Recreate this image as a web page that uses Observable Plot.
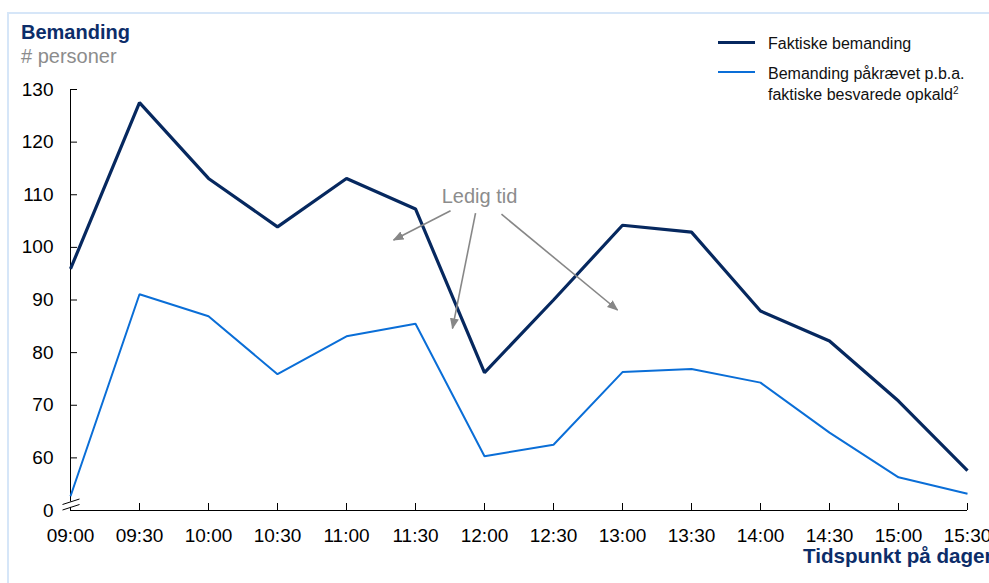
<!DOCTYPE html>
<html><head><meta charset="utf-8">
<script src="https://cdn.jsdelivr.net/npm/d3@7"></script>
<script src="https://cdn.jsdelivr.net/npm/@observablehq/plot@0.6"></script>
<style>
html,body{margin:0;padding:0;background:#fff;overflow:hidden;}
#wrap{position:relative;width:989px;height:583px;overflow:hidden;font-family:"Liberation Sans",Arial,sans-serif;}
#chart{position:absolute;left:0;top:0;}
.ov{position:absolute;white-space:nowrap;line-height:1;}
.frame-top{position:absolute;left:7px;top:12px;width:982px;height:2px;background:#d6e6f8;}
.frame-left{position:absolute;left:7px;top:12px;width:2px;height:571px;background:#d6e6f8;}
#title{left:21px;top:22px;font-size:20px;font-weight:bold;color:#0c2d69;}
#subtitle{left:21px;top:45.5px;font-size:20px;color:#8c8c8c;}
#xlabel{left:803px;top:546px;font-size:20.6px;font-weight:bold;color:#0c2d69;}
.lg-line{position:absolute;left:718px;width:37px;}
.lg-text{position:absolute;left:768px;font-size:16px;line-height:21px;color:#111;white-space:nowrap;}
sup{font-size:10px;line-height:0;vertical-align:6px;}
</style>
</head>
<body>
<div id="wrap">
  <div class="frame-top"></div>
  <div class="frame-left"></div>
  <div id="chart"></div>
  <div class="ov" id="title">Bemanding</div>
  <div class="ov" id="subtitle"># personer</div>
  <div class="lg-line" style="top:41.2px;height:3px;background:#06285f;"></div>
  <div class="lg-text" style="top:32.5px;">Faktiske bemanding</div>
  <div class="lg-line" style="top:70.7px;height:2px;background:#0a6ed7;"></div>
  <div class="lg-text" style="top:63px;">Bemanding påkrævet p.b.a.<br>faktiske besvarede opkald<sup>2</sup></div>
  <div class="ov" id="xlabel">Tidspunkt på dagen</div>
</div>
<script>
const times = ["09:00","09:30","10:00","10:30","11:00","11:30","12:00","12:30","13:00","13:30","14:00","14:30","15:00","15:30"];
const faktiske = [95.9,127.5,113.1,103.9,113.1,107.3,76.2,90.0,104.2,102.9,87.9,82.2,70.8,57.6];
const paakraevet = [52.7,91.1,86.9,75.9,83.1,85.5,60.3,62.5,76.3,76.9,74.3,64.8,56.3,53.2];
const yTicks = [50,60,70,80,90,100,110,120,130];
const yTickLabels = ["0","60","70","80","90","100","110","120","130"];
const seriesNames = ["Faktiske bemanding","Bemanding påkrævet p.b.a. faktiske besvarede opkald"];
const annotationLabel = "Ledig tid";
const annotationPos = [11.964, 109.7];
const arrowsData = [
  {x1:11.754,y1:106.96,x2:11.341,y2:101.4},
  {x1:11.935,y1:106.5,x2:11.768,y2:84.6},
  {x1:12.123,y1:106.3,x2:12.964,y2:88.1}
];

const hours = t => +t.slice(0,2) + (+t.slice(3))/60;
const xs = times.map(hours);
const xLabelMap = new Map(xs.map((x,i)=>[x,times[i]]));
const yLabelMap = new Map(yTicks.map((y,i)=>[y,yTickLabels[i]]));

const rows = times.map((t,i)=>({x:xs[i], y:faktiske[i], s:seriesNames[0]}));
const rows2 = times.map((t,i)=>({x:xs[i], y:paakraevet[i], s:seriesNames[1]}));

const W = 989, H = 583, mL = 70, mR = 22, mT = 89, mB = 73;
const xMin = xs[0], xMax = xs[xs.length-1];
const yMin = yTicks[0], yMax = yTicks[yTicks.length-1];
const pxPerX = (W - mL - mR) / (xMax - xMin);
const pxPerY = (H - mT - mB) / (yMax - yMin);
const dxData = px => px / pxPerX;
const dyData = px => px / pxPerY;

const breaks = [
  {x1: xMin - dxData(8), y1: yMin + dyData(6), x2: xMin + dxData(9), y2: yMin + dyData(11.5)},
  {x1: xMin - dxData(8), y1: yMin + dyData(0.5), x2: xMin + dxData(9), y2: yMin + dyData(6)}
];
const gapTop = yMin + dyData(8.6), gapBot = yMin + dyData(3.1);

const ARROW = "#878787";
const chart = Plot.plot({
  width: W, height: H,
  marginLeft: mL, marginRight: mR, marginTop: mT, marginBottom: mB,
  style: {fontFamily: '"Liberation Sans", Arial, sans-serif', color: "#000", background: "transparent", overflow: "visible"},
  x: {type: "linear", domain: [xMin, xMax]},
  y: {type: "linear", domain: [yMin, yMax]},
  marks: [
    Plot.axisY({ticks: yTicks, tickFormat: d => yLabelMap.get(d), tickSize: 0, tickPadding: 17, fontSize: 19, label: null, fill: "#000"}),
    Plot.axisX({ticks: xs, tickFormat: d => xLabelMap.get(d), tickSize: 0, tickPadding: 18, fontSize: 19, label: null, fill: "#000"}),
    Plot.ruleX([xMin], {y1: gapTop, y2: yMax, stroke: "#000", strokeWidth: 1}),
    Plot.ruleX([xMin], {y1: yMin, y2: gapBot, stroke: "#000", strokeWidth: 1}),
    Plot.ruleY([yMin], {x1: xMin, x2: xMax, stroke: "#000", strokeWidth: 1}),
    Plot.ruleY(yTicks.slice(1), {x1: xMin, x2: xMin + dxData(7), stroke: "#000", strokeWidth: 1}),
    Plot.ruleX(xs.slice(1), {y1: yMin, y2: yMin + dyData(7), stroke: "#000", strokeWidth: 1}),
    Plot.link(breaks, {x1:"x1", y1:"y1", x2:"x2", y2:"y2", stroke: "#000", strokeWidth: 1}),
    Plot.line(rows2, {x: "x", y: "y", stroke: "#0a6ed7", strokeWidth: 2, strokeLinejoin: "miter", strokeLinecap: "butt"}),
    Plot.line(rows, {x: "x", y: "y", stroke: "#06285f", strokeWidth: 3.2, strokeLinejoin: "miter", strokeLinecap: "butt"}),
    Plot.link(arrowsData, {x1:"x1", y1:"y1", x2:"x2", y2:"y2", stroke: ARROW, strokeWidth: 1.6}),
    Plot.text([annotationLabel], {x: annotationPos[0], y: annotationPos[1], text: d => d, fontSize: 20, fill: "#8c8c8c", textAnchor: "middle"})
  ]
});

// filled arrow heads on the annotation links
const svg = d3.select(chart);
svg.append("defs").append("marker")
  .attr("id", "ahead").attr("markerUnits", "userSpaceOnUse")
  .attr("markerWidth", 11).attr("markerHeight", 9)
  .attr("viewBox", "0 0 11 9")
  .attr("refX", 10).attr("refY", 4.5).attr("orient", "auto")
  .append("path").attr("d", "M0,0 L11,4.5 L0,9 Z").attr("fill", ARROW);
svg.selectAll("g").filter(function(){ return (this.getAttribute("stroke") || "").toLowerCase() === ARROW; })
  .selectAll("path").attr("marker-end", "url(#ahead)");

document.getElementById("chart").appendChild(chart);
</script>
</body></html>
